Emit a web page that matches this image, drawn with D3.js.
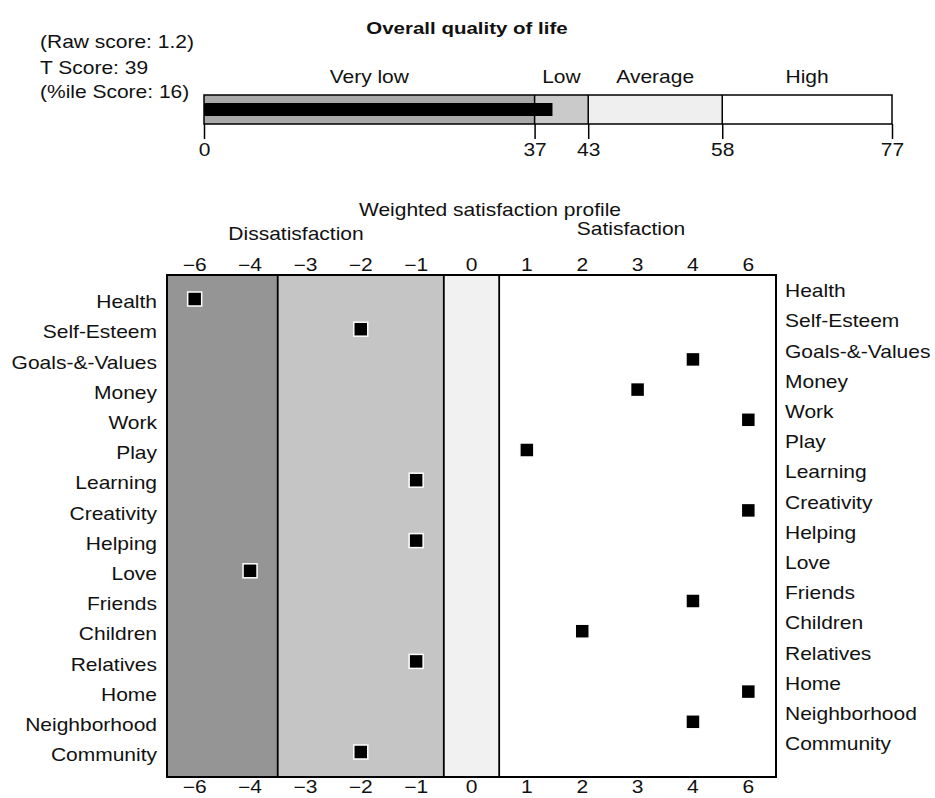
<!DOCTYPE html>
<html>
<head>
<meta charset="utf-8">
<script src="https://cdn.jsdelivr.net/npm/d3@7/dist/d3.min.js"></script>
<style>
  html, body { margin: 0; padding: 0; background: #fff; }
  svg { display: block; }
  text { font-family: "Liberation Sans", Arial, Helvetica, sans-serif; fill: #111; }
</style>
</head>
<body>
<svg id="chart" width="935" height="798"></svg>
<script>
// ---------- DATA ----------
const qolTicks = [0, 37, 43, 58, 77];
const qolZoneNames = ["Very low", "Low", "Average", "High"];
const rawScore = 1.2;
const tScore = 39;
const percentileScore = 16;

const profileColumns = ["-6", "-4", "-3", "-2", "-1", "0", "1", "2", "3", "4", "6"];
const profileZones = [["-6", "-4"], ["-3", "-1"], ["0", "0"], ["1", "6"]];
const domains = ["Health", "Self-Esteem", "Goals-&-Values", "Money", "Work", "Play",
  "Learning", "Creativity", "Helping", "Love", "Friends", "Children", "Relatives",
  "Home", "Neighborhood", "Community"];
const weightedScores = [-6, -2, 4, 3, 6, 1, -1, 6, -1, -4, 4, 2, -1, 6, 4, -2];

// ---------- STYLE ----------
const qolZoneFills = ["#a9a9a9", "#cacaca", "#efefef", "#ffffff"];
const profileZoneFills = ["#959595", "#c5c5c5", "#f1f1f1", "#ffffff"];
const SX = "scale(1.2,1)";
const FS = 17.5;
const fmt = s => String(s).replace("-", "\u2212");

const svg = d3.select("#chart");

function label(x, y, txt, opts = {}) {
  return svg.append("text")
    .attr("transform", `translate(${x},${y}) ${opts.sx || SX}`)
    .attr("text-anchor", opts.anchor || "start")
    .style("font-size", (opts.size || FS) + "px")
    .style("font-weight", opts.bold ? "bold" : "normal")
    .text(txt);
}

// ---------- TOP: overall quality of life ----------
label(467, 34, "Overall quality of life", {anchor: "middle", bold: true, size: 16.8, sx: "scale(1.22,1)"});
label(40, 48, `(Raw score: ${rawScore})`);
label(40, 74, `T Score: ${tScore}`);
label(40, 98, `(%ile Score: ${percentileScore})`);

const xq = d3.scaleLinear().domain([0, 77]).range([204, 892]);
const barTop = 95, barBot = 124;

const zoneG = svg.append("g");
qolZoneNames.forEach((name, i) => {
  const a = qolTicks[i], b = qolTicks[i + 1];
  zoneG.append("rect")
    .attr("x", xq(a)).attr("y", barTop)
    .attr("width", xq(b) - xq(a)).attr("height", barBot - barTop)
    .attr("fill", qolZoneFills[i]);
  label((xq(a) + xq(b)) / 2, 83, name, {anchor: "middle"});
});
// black T-score bar
svg.append("rect")
  .attr("x", xq(0)).attr("y", 103)
  .attr("width", xq(tScore) - xq(0)).attr("height", 13)
  .attr("fill", "#000");
// outline + zone separators
svg.append("rect")
  .attr("x", xq(0)).attr("y", barTop)
  .attr("width", xq(77) - xq(0)).attr("height", barBot - barTop)
  .attr("fill", "none").attr("stroke", "#000").attr("stroke-width", 1.5);
qolTicks.slice(1, -1).forEach(t => {
  svg.append("line").attr("x1", xq(t)).attr("x2", xq(t))
    .attr("y1", barTop).attr("y2", barBot)
    .attr("stroke", "#000").attr("stroke-width", 1.5);
});
const qAxis = svg.append("g").attr("transform", `translate(0,${barBot})`)
  .call(d3.axisBottom(xq).tickValues(qolTicks).tickSize(15).tickPadding(5).tickFormat(d3.format("d")));
qAxis.select(".domain").remove();
qAxis.selectAll("line").attr("stroke", "#000").attr("stroke-width", 1.5);
qAxis.selectAll("text").attr("transform", SX).style("font-size", FS + "px")
  .style("font-family", "'Liberation Sans', Arial, sans-serif").attr("fill", "#111");

// ---------- BOTTOM: weighted satisfaction profile ----------
const panelTop = 275, panelBot = 777;
const x = d3.scaleBand().domain(profileColumns).range([167, 776]).paddingInner(0).paddingOuter(0);
const y = d3.scalePoint().domain(domains).range([299, 752]);

label(490, 216, "Weighted satisfaction profile", {anchor: "middle"});
label(296, 240, "Dissatisfaction", {anchor: "middle"});
label(631, 235, "Satisfaction", {anchor: "middle"});

profileZones.forEach((z, i) => {
  const x0 = x(z[0]), x1 = x(z[1]) + x.bandwidth();
  svg.append("rect")
    .attr("x", x0).attr("y", panelTop)
    .attr("width", x1 - x0).attr("height", panelBot - panelTop)
    .attr("fill", profileZoneFills[i]);
});
profileZones.slice(1).forEach(z => {
  svg.append("line").attr("x1", x(z[0])).attr("x2", x(z[0]))
    .attr("y1", panelTop).attr("y2", panelBot)
    .attr("stroke", "#000").attr("stroke-width", 1.8);
});
svg.append("rect")
  .attr("x", x.range()[0]).attr("y", panelTop)
  .attr("width", x.range()[1] - x.range()[0]).attr("height", panelBot - panelTop)
  .attr("fill", "none").attr("stroke", "#000").attr("stroke-width", 2);

// column axes
function styleAxis(g) {
  g.select(".domain").remove();
  g.selectAll("text").attr("transform", SX).style("font-size", FS + "px")
    .style("font-family", "'Liberation Sans', Arial, sans-serif").attr("fill", "#111");
}
svg.append("g").attr("transform", `translate(0,${panelTop})`)
  .call(d3.axisTop(x).tickSize(0).tickPadding(4).tickFormat(fmt)).call(styleAxis);
svg.append("g").attr("transform", `translate(0,${panelBot})`)
  .call(d3.axisBottom(x).tickSize(0).tickPadding(4).tickFormat(fmt)).call(styleAxis);

// row labels
const la = svg.append("g").attr("transform", "translate(157,0)")
  .call(d3.axisLeft(y).tickSize(0).tickPadding(0));
la.select(".domain").remove();
la.selectAll("text").attr("transform", "translate(0,3) " + SX).style("font-size", FS + "px")
  .style("font-family", "'Liberation Sans', Arial, sans-serif").attr("fill", "#111");
const ra = svg.append("g").attr("transform", "translate(785,0)")
  .call(d3.axisRight(y).tickSize(0).tickPadding(0));
ra.select(".domain").remove();
ra.selectAll("text").attr("transform", "translate(0,-8) " + SX).style("font-size", FS + "px")
  .style("font-family", "'Liberation Sans', Arial, sans-serif").attr("fill", "#111");

// markers
const ms = 14;
svg.append("g").selectAll("rect")
  .data(domains.map((d, i) => ({d, v: weightedScores[i]})))
  .join("rect")
  .attr("x", p => x(String(p.v)) + x.bandwidth() / 2 - ms / 2)
  .attr("y", p => y(p.d) - ms / 2)
  .attr("width", ms).attr("height", ms)
  .attr("fill", "#000")
  .attr("stroke", "#fff").attr("stroke-width", 1.5);
</script>
</body>
</html>
